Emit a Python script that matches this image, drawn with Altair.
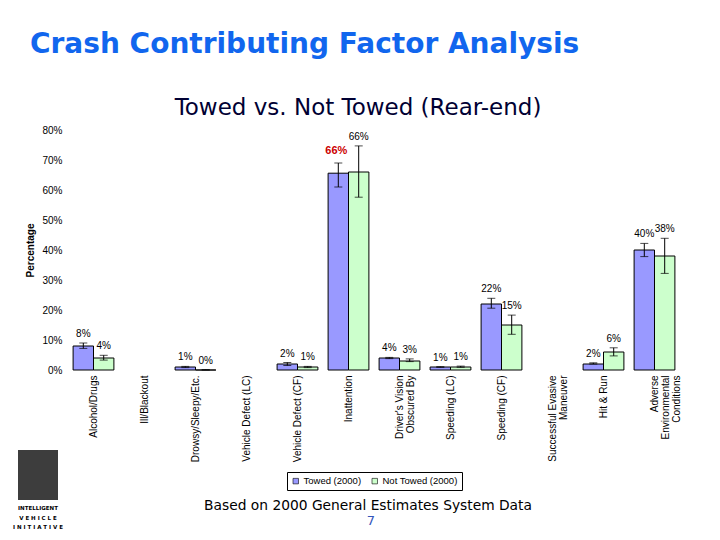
import altair as alt
import pandas as pd

# Crash contributing factors, rear-end crashes, 2000 GES data (percent of crashes)
categories = [
    "Alcohol/Drugs",
    "Ill/Blackout",
    "Drowsy/Sleepy/Etc.",
    "Vehicle Defect (LC)",
    "Vehicle Defect (CF)",
    "Inattention",
    "Driver's Vision\nObscured By",
    "Speeding (LC)",
    "Speeding (CF)",
    "Successful Evasive\nManeuver",
    "Hit & Run",
    "Adverse\nEnvironmental\nConditions",
]
series = ["Towed (2000)", "Not Towed (2000)"]

towed = [8, None, 1, None, 2, 65.6, 4, 1, 22, None, 2, 40]
towed_lo = [7.2, None, 0.8, None, 1.5, 61, 3.8, 0.9, 20.6, None, 2.0, 37.8]
towed_hi = [9.0, None, 1.2, None, 2.5, 69, 4.2, 1.1, 23.9, None, 2.4, 42.2]

not_towed = [4, None, 0, None, 1, 66, 3, 1, 15, None, 6, 38]
not_towed_lo = [3.3, None, 0, None, 0.8, 57.6, 2.8, 0.9, 11.9, None, 4.7, 32.2]
not_towed_hi = [4.9, None, 0.1, None, 1.2, 74.7, 3.7, 1.3, 18.3, None, 7.4, 43.9]

y_ticks = [0, 10, 20, 30, 40, 50, 60, 70, 80]

page_title = "Crash Contributing Factor Analysis"
chart_title = "Towed vs. Not Towed (Rear-end)"
source_note = "Based on 2000 General Estimates System Data"
page_number = "7"
logo_lines = ["INTELLIGENT", "V E H I C L E", "I N I T I A T I V E"]

rows = []
for name, vals, los, his in [
    (series[0], towed, towed_lo, towed_hi),
    (series[1], not_towed, not_towed_lo, not_towed_hi),
]:
    for cat, v, lo, hi in zip(categories, vals, los, his):
        if v is None:
            continue
        rows.append({"category": cat, "series": name, "value": v, "lo": lo, "hi": hi})
df = pd.DataFrame(rows)

FONT = "Liberation Sans"
W, H = 612, 240

x_enc = alt.X(
    "category:N",
    sort=categories,
    scale=alt.Scale(domain=categories, paddingInner=0.2, paddingOuter=0.1),
    axis=alt.Axis(
        title=None,
        labelAngle=270,
        labelAlign="right",
        labelBaseline="middle",
        labelPadding=5,
        labelFont=FONT,
        labelFontSize=10,
        labelLineHeight=11,
        labelColor="black",
        labelLimit=0,
        labelExpr="split(datum.label, '\\n')",
        domain=False,
        ticks=False,
    ),
)
xo_enc = alt.XOffset("series:N", sort=series, scale=alt.Scale(domain=series, paddingInner=0))
y_scale = alt.Scale(domain=[0, 80], nice=False)
y_axis = alt.Axis(
    values=y_ticks,
    labelExpr="datum.value + '%'",
    title="Percentage",
    titleFont=FONT,
    titleFontSize=10,
    titleFontWeight="bold",
    titleColor="black",
    titlePadding=6,
    labelFont=FONT,
    labelFontSize=10,
    labelColor="black",
    labelPadding=6,
    domain=False,
    ticks=False,
    grid=False,
)


def y_of(field):
    return alt.Y(field, scale=y_scale, axis=y_axis)


base = alt.Chart(df).encode(x=x_enc, xOffset=xo_enc)

bars = base.mark_bar(stroke="black", strokeWidth=1).encode(
    y=y_of("value:Q"),
    color=alt.Color(
        "series:N",
        sort=series,
        scale=alt.Scale(domain=series, range=["#9999ff", "#ccffcc"]),
        legend=alt.Legend(
            title=None,
            orient="none",
            legendX=219,
            legendY=342,
            direction="horizontal",
            strokeColor="black",
            padding=4,
            symbolType="square",
            symbolSize=30,
            symbolStrokeColor="black",
            symbolStrokeWidth=0.6,
            labelFont=FONT,
            labelFontSize=9.5,
            labelColor="black",
            columnPadding=8,
            labelOffset=3,
        ),
    ),
)

err = base.mark_rule(color="black", strokeWidth=1).encode(y=y_of("lo:Q"), y2="hi:Q")
cap_lo = base.mark_tick(color="black", size=8, thickness=1).encode(y=y_of("lo:Q"))
cap_hi = base.mark_tick(color="black", size=8, thickness=1).encode(y=y_of("hi:Q"))

highlight = "datum.category == 'Inattention' && datum.series == 'Towed (2000)'"
label_base = base.transform_calculate(label="format(datum.value, '.0f') + '%'")
labels = label_base.transform_filter("!(" + highlight + ")").mark_text(
    baseline="bottom", dy=-4, font=FONT, fontSize=10, color="black"
).encode(y=y_of("hi:Q"), text="label:N")
labels_hl = label_base.transform_filter(highlight).mark_text(
    baseline="bottom", dy=-7, dx=-2, font=FONT, fontSize=11, fontWeight="bold", color="#cc0000"
).encode(y=y_of("hi:Q"), text="label:N")


def note(text, x, y, size, color="black", weight="normal", align="center", font="DejaVu Sans"):
    return alt.Chart(pd.DataFrame({"t": [text]})).mark_text(
        align=align, baseline="middle", fontSize=size, color=color, fontWeight=weight, font=font
    ).encode(text="t:N", x=alt.value(x), y=alt.value(y))


heading = note(page_title, -38, -85, 28, color="#1166ee", weight="bold", align="left")
subheading = note(chart_title, 290, -22, 23, color="#000033")
footer = note(source_note, 300, 376, 13.8)
page_no = note(page_number, 303, 391, 13, color="#3355bb")

logo_block = alt.Chart(pd.DataFrame({"t": [0]})).mark_rect(color="#3d3d3d").encode(
    x=alt.value(-50), x2=alt.value(-10), y=alt.value(320), y2=alt.value(370)
)
logo_text = [
    note(t, -30, 378 + 9.5 * i, 5.5, weight="bold", font="DejaVu Sans") for i, t in enumerate(logo_lines)
]

chart = (
    alt.layer(bars, err, cap_lo, cap_hi, labels, labels_hl, heading, subheading, footer, page_no,
              logo_block, *logo_text)
    .properties(
        width=W,
        height=H,
        autosize=alt.AutoSizeParams(type="none"),
        padding={"left": 68, "top": 130, "right": 40, "bottom": 170},
        background="white",
    )
    .configure_view(stroke=None)
)

chart.save("out.html", embed_options={"renderer": "svg", "actions": False})
